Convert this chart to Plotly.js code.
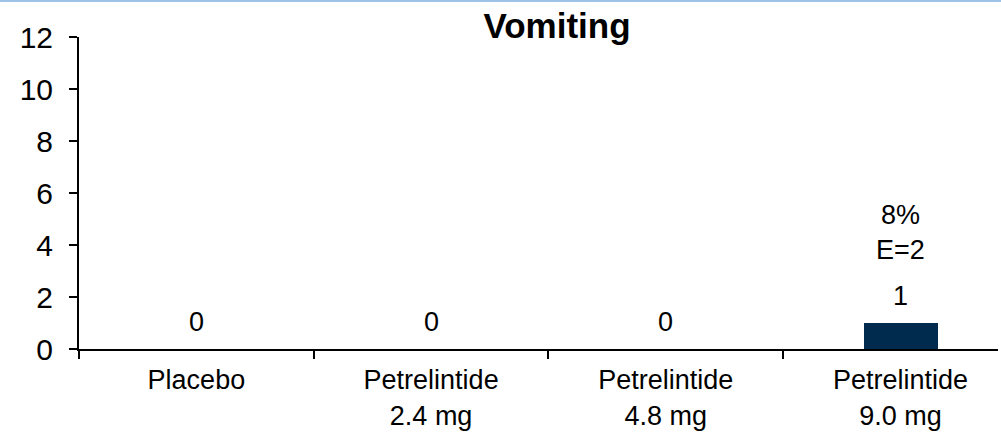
<!DOCTYPE html>
<html>
<head>
<meta charset="utf-8">
<script src="https://cdn.plot.ly/plotly-3.0.1.min.js"></script>
<style>
  html, body { margin: 0; padding: 0; background: #ffffff; }
  #wrap { position: relative; width: 1001px; height: 432px; overflow: hidden; }
  #topline { position: absolute; left: 0; top: 0; width: 1001px; height: 2px; background: #9DC3E6; z-index: 2; }
  #chart { position: absolute; left: 0; top: 0; width: 1001px; height: 432px; }
</style>
</head>
<body>
<div id="wrap">
  <div id="chart"></div>
  <div id="topline"></div>
</div>
<script>
// ---- data ----
const categories = ["Placebo", "Petrelintide<br>2.4 mg", "Petrelintide<br>4.8 mg", "Petrelintide<br>9.0 mg"];
const patients = [0, 0, 0, 1];
const percents = [null, null, null, 8];
const events = [null, null, null, 2];
const chartTitle = "Vomiting";
const yTicks = [0, 2, 4, 6, 8, 10, 12];

const FONT = "Liberation Sans, Arial, sans-serif";
const SIZE = 27;
const navy = "#002B4F";

const trace = {
  type: "bar",
  x: categories,
  y: patients,
  width: 0.315,
  marker: { color: navy },
  hoverinfo: "skip",
  showlegend: false
};

const annotations = [];
categories.forEach((c, i) => {
  annotations.push({
    x: c, y: patients[i], xref: "x", yref: "y",
    text: String(patients[i]), showarrow: false,
    yanchor: "bottom", yshift: 10,
    font: { family: FONT, size: SIZE, color: "#000" }
  });
  if (percents[i] !== null) {
    annotations.push({
      x: c, y: 4.5, xref: "x", yref: "y",
      text: percents[i] + "%<br>E=" + events[i], showarrow: false,
      yanchor: "middle",
      font: { family: FONT, size: SIZE, color: "#000" }
    });
  }
});

const layout = {
  width: 1001, height: 432,
  margin: { l: 79, r: 3, t: 37, b: 83, pad: 0 },
  paper_bgcolor: "rgba(0,0,0,0)",
  plot_bgcolor: "rgba(0,0,0,0)",
  font: { family: FONT, size: SIZE, color: "#000" },
  title: {
    text: "<b>" + chartTitle + "</b>",
    x: 557 / 1001, xanchor: "center",
    y: 0.912, yanchor: "bottom",
    font: { family: FONT, size: 35, color: "#000" }
  },
  xaxis: {
    type: "category",
    range: [-0.5, 3.415],
    showline: true, linecolor: "#000", linewidth: 2,
    ticks: "outside", tickson: "boundaries", ticklen: 8, tickwidth: 2, tickcolor: "#000",
    showgrid: false, zeroline: false,
    tickfont: { family: FONT, size: SIZE, color: "#000" },
    ticklabelstandoff: 6,
    fixedrange: true
  },
  yaxis: {
    range: [0, 12],
    tickvals: yTicks,
    ticktext: yTicks.map(String),
    showline: true, linecolor: "#000", linewidth: 2,
    ticks: "outside", ticklen: 8, tickwidth: 2, tickcolor: "#000",
    showgrid: false, zeroline: false,
    tickfont: { family: FONT, size: 30, color: "#000" },
    ticklabelstandoff: 10,
    fixedrange: true
  },
  annotations: annotations,
  bargap: 0
};

Plotly.newPlot("chart", [trace], layout, { displayModeBar: false, staticPlot: true });
</script>
</body>
</html>
